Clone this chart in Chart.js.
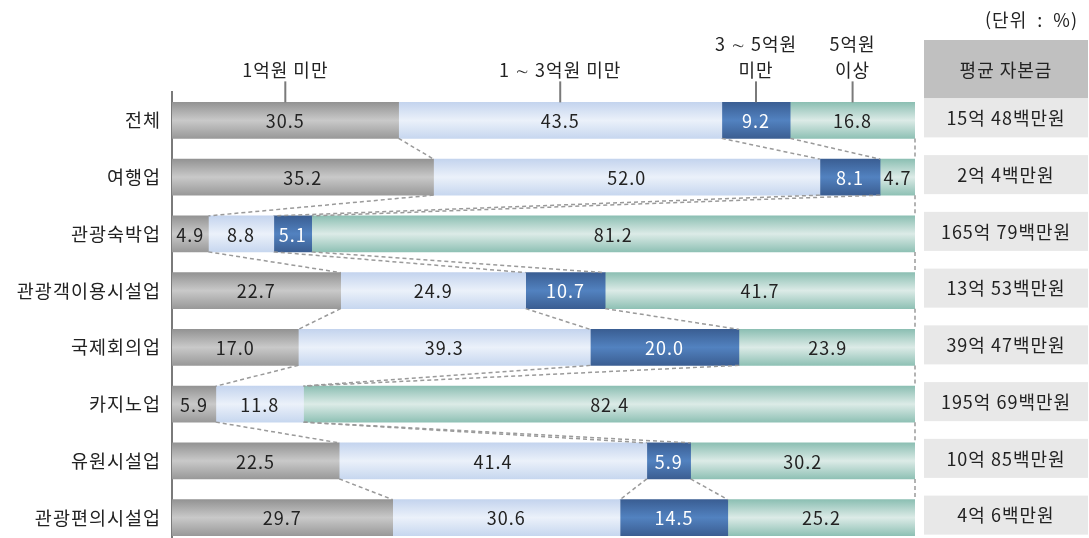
<!DOCTYPE html>
<html lang="ko">
<head>
<meta charset="utf-8">
<script src="https://cdn.jsdelivr.net/npm/chart.js@4.4.1/dist/chart.umd.min.js"></script>
<style>
  html, body { margin: 0; padding: 0; background: #fff; overflow: hidden; }
  #wrap { width: 1089px; height: 546px; }
</style>
</head>
<body>
<div id="wrap"><canvas id="capitalChart" width="1089" height="546"></canvas></div>
<script>
// 업종별 자본금 규모 분포 (단위: %)
const industries = ['전체', '여행업', '관광숙박업', '관광객이용시설업', '국제회의업', '카지노업', '유원시설업', '관광편의시설업'];
const under1 = [30.5, 35.2, 4.9, 22.7, 17.0, 5.9, 22.5, 29.7];
const from1to3 = [43.5, 52.0, 8.8, 24.9, 39.3, 11.8, 41.4, 30.6];
const from3to5 = [9.2, 8.1, 5.1, 10.7, 20.0, null, 5.9, 14.5];
const over5 = [16.8, 4.7, 81.2, 41.7, 23.9, 82.4, 30.2, 25.2];
const seriesNames = ['1억원 미만', '1 ∼ 3억원 미만', '3 ∼ 5억원 미만', '5억원 이상'];
const bracketLabels = [['1억원 미만'], ['1 ∼ 3억원 미만'], ['3 ∼ 5억원', '미만'], ['5억원', '이상']];
const avgCapital = ['15억 48백만원', '2억 4백만원', '165억 79백만원', '13억 53백만원', '39억 47백만원', '195억 69백만원', '10억 85백만원', '4억 6백만원'];
const tableTitle = '평균 자본금';
const unitNote = '(단위  :  %)';

const FONT = '"Noto Sans CJK KR", "Noto Sans", sans-serif';
const BAR_H = 36;

// gradient stops: edge, middle, edge
const palettes = [
    ['#939393', '#c9c9c9', '#999999'],
    ['#c4d4ee', '#ebf1fa', '#c7d7ef'],
    ['#3a5e93', '#5282c0', '#3b5e92'],
    ['#8cbfb3', '#dcebe7', '#8fc1b5']
];
const labelColors = ['#222', '#222', '#fff', '#222'];

function gradientFill(stops) {
    return (ctx) => {
        const chart = ctx.chart;
        const ys = chart.scales.y;
        if (!ys || !chart.chartArea || ctx.dataIndex === undefined) return stops[1];
        const cy = ys.getPixelForValue(ctx.dataIndex);
        if (!Number.isFinite(cy)) return stops[1];
        const g = chart.ctx.createLinearGradient(0, cy - BAR_H / 2, 0, cy + BAR_H / 2);
        g.addColorStop(0, stops[0]);
        g.addColorStop(0.5, stops[1]);
        g.addColorStop(1, stops[2]);
        return g;
    };
}

const seriesData = [under1, from1to3, from3to5, over5];

// wider letter spacing, closer to the original's Gulim look
const spacingPlugin = {
    id: 'spacing',
    beforeDraw(chart) { chart.ctx.letterSpacing = '1px'; }
};

// dashed lines joining segment boundaries of neighbouring bars
const connectorPlugin = {
    id: 'connectors',
    afterDatasetsDraw(chart) {
        const { ctx, scales: { x, y } } = chart;
        const cum = industries.map((_, i) => {
            let s = 0;
            return seriesData.map(arr => (s += (arr[i] || 0)));
        });
        ctx.save();
        ctx.strokeStyle = '#9a9a9a';
        ctx.lineWidth = 1.5;
        ctx.setLineDash([4, 3]);
        for (let i = 0; i < industries.length - 1; i++) {
            const y1 = y.getPixelForValue(i) + BAR_H / 2;
            const y2 = y.getPixelForValue(i + 1) - BAR_H / 2;
            for (let k = 0; k < seriesData.length; k++) {
                const v1 = Math.min(cum[i][k], 100);
                const v2 = Math.min(cum[i + 1][k], 100);
                ctx.beginPath();
                ctx.moveTo(x.getPixelForValue(v1), y1);
                ctx.lineTo(x.getPixelForValue(v2), y2);
                ctx.stroke();
            }
        }
        ctx.restore();
    }
};

// numbers inside each segment
const valueLabelPlugin = {
    id: 'valueLabels',
    afterDatasetsDraw(chart) {
        const ctx = chart.ctx;
        ctx.save();
        ctx.font = '18px ' + FONT;
        ctx.textAlign = 'center';
        ctx.textBaseline = 'middle';
        chart.data.datasets.forEach((ds, di) => {
            const meta = chart.getDatasetMeta(di);
            meta.data.forEach((bar, i) => {
                const v = ds.data[i];
                if (v === null || v === undefined) return;
                ctx.fillStyle = labelColors[di];
                ctx.fillText(v.toFixed(1), (bar.x + bar.base) / 2, bar.y + 1);
            });
        });
        ctx.restore();
    }
};

// bracket captions on top and the average capital table on the right
const headerPlugin = {
    id: 'header',
    afterDraw(chart) {
        const { ctx, chartArea, scales: { x, y } } = chart;
        ctx.save();
        ctx.font = '18px ' + FONT;
        ctx.textAlign = 'center';
        ctx.textBaseline = 'middle';

        // captions over first bar
        let start = 0;
        const topY = y.getPixelForValue(0) - BAR_H / 2;
        seriesData.forEach((arr, k) => {
            const v = arr[0] || 0;
            const cx = x.getPixelForValue(start + v / 2);
            start += v;
            ctx.strokeStyle = '#7a7a7a';
            ctx.lineWidth = 2;
            ctx.beginPath();
            ctx.moveTo(cx, topY - 21);
            ctx.lineTo(cx, topY);
            ctx.stroke();
            const lines = bracketLabels[k];
            ctx.fillStyle = '#222';
            lines.forEach((t, li) => {
                ctx.fillText(t, cx, topY - 32 - (lines.length - 1 - li) * 26);
            });
        });

        // table
        const left = chartArea.right + 9;
        const w = chart.width - left - 1;
        const cx = left + w / 2;
        const firstTop = y.getPixelForValue(0) - BAR_H / 2 - 4;
        ctx.fillStyle = '#c0c0c0';
        ctx.fillRect(left, 40, w, firstTop - 40);
        ctx.fillStyle = '#222';
        ctx.fillText(tableTitle, cx, (40 + firstTop) / 2 + 1);

        avgCapital.forEach((t, i) => {
            const cy = y.getPixelForValue(i);
            ctx.fillStyle = '#e8e8e8';
            ctx.fillRect(left, cy - 22, w, 39);
            ctx.fillStyle = '#222';
            ctx.fillText(t, cx, cy - 2);
        });

        ctx.textAlign = 'right';
        ctx.fillText(unitNote, chart.width - 11, 20);
        ctx.restore();
    }
};

const capitalChart = new Chart(document.getElementById('capitalChart'), {
    type: 'bar',
    data: {
        labels: industries,
        datasets: seriesData.map((arr, k) => ({
            label: seriesNames[k],
            data: arr,
            backgroundColor: gradientFill(palettes[k]),
            borderWidth: 0,
            barThickness: BAR_H
        }))
    },
    options: {
        indexAxis: 'y',
        responsive: false,
        animation: false,
        layout: { padding: { top: 92, right: 174, left: 0, bottom: 0 } },
        scales: {
            x: { stacked: true, min: 0, max: 100, display: false },
            y: {
                stacked: true,
                grid: { display: false, drawTicks: false },
                border: { display: true, color: '#7a7a7a', width: 2 },
                ticks: { color: '#222', font: { family: FONT, size: 18.5 }, padding: 11 },
                afterFit: (scale) => {
                    scale.width = 172;
                    scale.paddingTop = 0;
                    scale.paddingBottom = 0;
                }
            }
        },
        plugins: {
            legend: { display: false },
            tooltip: { enabled: false }
        }
    },
    plugins: [spacingPlugin, connectorPlugin, valueLabelPlugin, headerPlugin]
});
</script>
</body>
</html>
